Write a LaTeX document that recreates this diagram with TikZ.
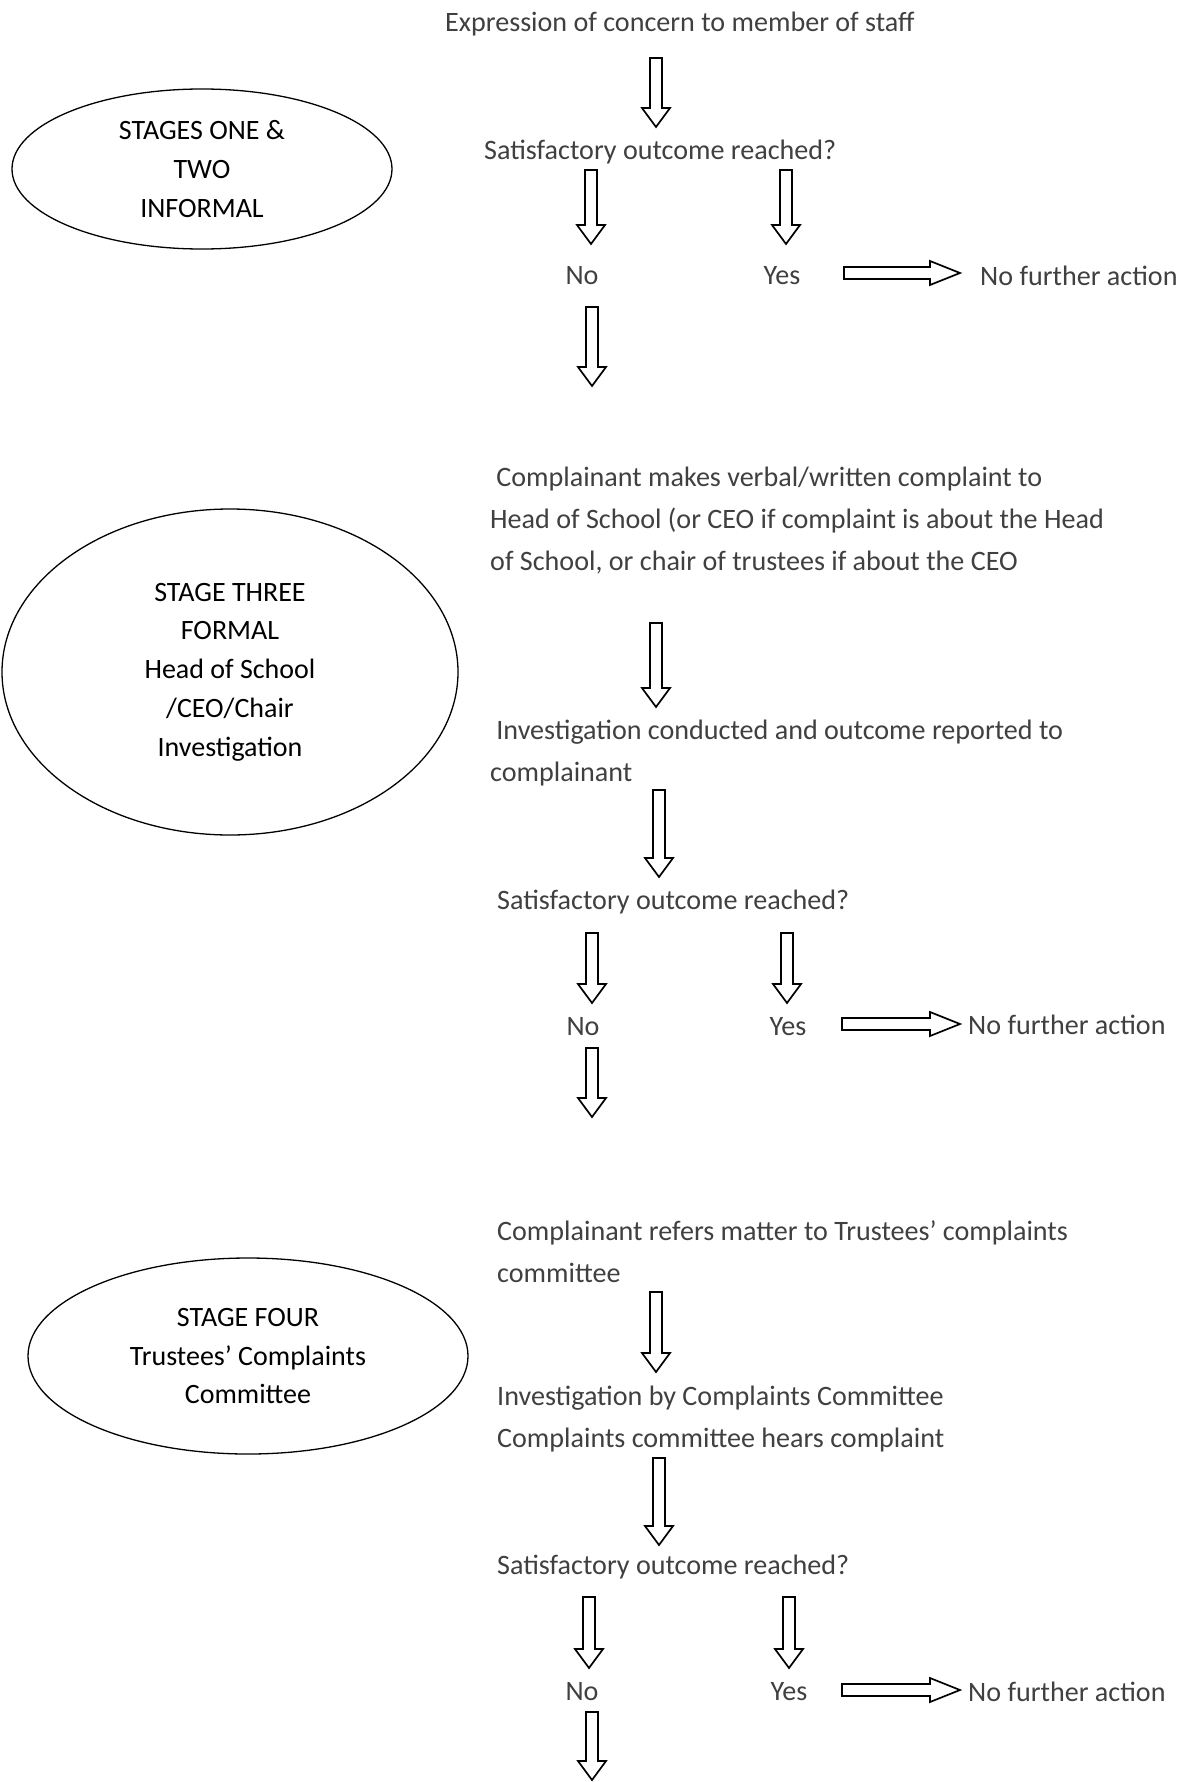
\documentclass[tikz,border=0pt]{standalone}
\usepackage{fontspec}
\setmainfont{Carlito}
\usetikzlibrary{positioning}
\definecolor{flowtxt}{HTML}{404040}
\tikzset{
  flow/.style={inner sep=0pt, anchor=west, align=left, text=flowtxt,
    font=\fontsize{28.1pt}{42pt}\selectfont},
  flowc/.style={flow, anchor=center},
  stagetxt/.style={inner sep=0pt, align=center, text=black,
    font=\fontsize{28pt}{38.7pt}\selectfont},
  stageell/.style={draw=black, line width=1.3pt},
  blockline/.style={draw=black, fill=white, line width=1.7pt, line join=miter}
}
\newcommand\varr[3]{%
  \draw[blockline] ({#1-6},#2) -- ({#1+6},#2) -- ({#1+6},{#3-19}) -- ({#1+14},{#3-19})
    -- (#1,#3) -- ({#1-14},{#3-19}) -- ({#1-6},{#3-19}) -- cycle;}
\newcommand\harr[3]{%
  \draw[blockline] (#1,{#3-6}) -- ({#2-30},{#3-6}) -- ({#2-30},{#3-12}) -- (#2,#3)
    -- ({#2-30},{#3+12}) -- ({#2-30},{#3+6}) -- (#1,{#3+6}) -- cycle;}
\begin{document}
\begin{tikzpicture}[x=1pt,y=-1pt]
\useasboundingbox[fill=white] (0,0) rectangle (1184,1782);

% ---------------- Stage ellipses ----------------
\draw[stageell] (202,169) ellipse [x radius=190, y radius=80];
\node[stagetxt] (st1) at (202,169) {STAGES ONE \&\\TWO\\INFORMAL};

\draw[stageell] (230,672) ellipse [x radius=228, y radius=163];
\node[stagetxt] (st2) at (230,672) {STAGE THREE\\FORMAL\\Head of School\\/CEO/Chair\\Investigation};

\draw[stageell] (248,1356) ellipse [x radius=220, y radius=98];
\node[stagetxt] (st3) at (248,1356) {STAGE FOUR\\Trustees’ Complaints\\Committee};

% ---------------- Section 1 ----------------
\node[flow] (t1) at (445,24) {Expression of concern to member of staff};
\varr{656}{58}{127}
\node[flow] (s1) at (484,152) {Satisfactory outcome reached?};
\varr{591}{170}{244}
\varr{786}{170}{244}
\node[flowc] (no1) at (582,276) {No};
\node[flowc] (yes1) at (782,276) {Yes};
\harr{844}{960}{273}
\node[flow] (nfa1) at (980,276) {No further action};
\varr{592}{307}{386}

% ---------------- Section 2 ----------------
\node[flow] (t2) at (490,521) {\hspace*{6.2pt}Complainant makes verbal/written complaint to\\Head of School (or CEO if complaint is about the Head\\of School, or chair of trustees if about the CEO};
\varr{656}{623}{707}
\node[flow] (t2b) at (490,753) {\hspace*{6.2pt}Investigation conducted and outcome reported to\\complainant};
\varr{659}{790}{877}
\node[flow] (s2) at (497,902) {Satisfactory outcome reached?};
\varr{592}{933}{1003}
\varr{787}{933}{1003}
\node[flowc] (no2) at (583,1027) {No};
\node[flowc] (yes2) at (788,1027) {Yes};
\harr{842}{960}{1024}
\node[flow] (nfa2) at (968,1025) {No further action};
\varr{592}{1048}{1117}

% ---------------- Section 3 ----------------
\node[flow] (t3) at (497,1252) {Complainant refers matter to Trustees’ complaints\\committee};
\varr{656}{1292}{1372}
\node[flow] (t3b) at (497,1419) {Investigation by Complaints Committee\\Complaints committee hears complaint};
\varr{659}{1458}{1545}
\node[flow] (s3) at (497,1567) {Satisfactory outcome reached?};
\varr{589}{1597}{1668}
\varr{789}{1597}{1668}
\node[flowc] (no3) at (582,1692) {No};
\node[flowc] (yes3) at (789,1692) {Yes};
\harr{842}{960}{1690}
\node[flow] (nfa3) at (968,1692) {No further action};
\varr{592}{1712}{1780}
\end{tikzpicture}
\end{document}
